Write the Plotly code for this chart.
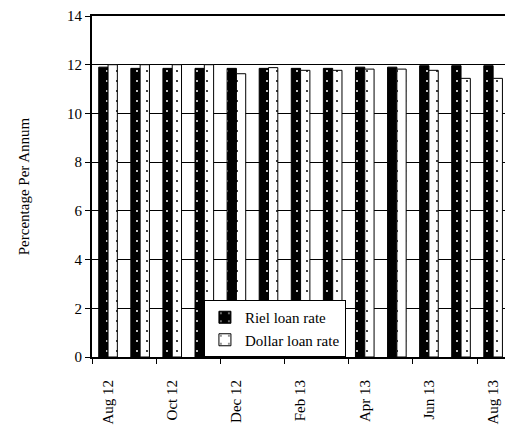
import plotly.graph_objects as go

months = ["Aug 12", "Sep 12", "Oct 12", "Nov 12", "Dec 12", "Jan 13", "Feb 13",
          "Mar 13", "Apr 13", "May 13", "Jun 13", "Jul 13", "Aug 13"]
riel = [11.90, 11.85, 11.85, 11.85, 11.85, 11.85, 11.85, 11.85, 11.90, 11.90, 11.96, 11.96, 11.96]
dollar = [12.00, 12.00, 12.00, 12.00, 11.63, 11.88, 11.77, 11.77, 11.82, 11.82, 11.77, 11.44, 11.44]

xi = list(range(len(months)))
FONT = "Liberation Serif, Times New Roman, serif"

fig = go.Figure()
fig.add_trace(go.Bar(
    x=xi, y=riel, name="Riel loan rate",
    marker=dict(color="black", line=dict(color="black", width=1),
                pattern=dict(shape=".", fgcolor="white", bgcolor="black",
                             size=10, solidity=0.03, fillmode="replace")),
))
fig.add_trace(go.Bar(
    x=xi, y=dollar, name="Dollar loan rate",
    marker=dict(color="white", line=dict(color="black", width=1),
                pattern=dict(shape=".", fgcolor="black", bgcolor="white",
                             size=10, solidity=0.03, fillmode="replace")),
))

fig.update_layout(
    width=505, height=428,
    margin=dict(l=92, r=0, t=16, b=71),
    paper_bgcolor="white", plot_bgcolor="white",
    barmode="group", bargap=0.42, bargroupgap=0,
    font=dict(family=FONT, size=15, color="black"),
    showlegend=True,
    legend=dict(x=0.271, y=0, xanchor="left", yanchor="bottom",
                bgcolor="white", bordercolor="black", borderwidth=1,
                font=dict(family=FONT, size=15), itemwidth=30,
                tracegroupgap=4),
)
fig.update_xaxes(
    range=[-0.5, 12.37],
    tickmode="array", tickvals=xi[::2], ticktext=months[::2],
    tickangle=-90, ticks="", ticklabelstandoff=15,
    showgrid=False, zeroline=False,
    showline=True, linecolor="black", linewidth=2, mirror=True,
    minor=dict(tick0=-0.5, dtick=2, ticks="outside", ticklen=5,
               tickcolor="black", tickwidth=1, showgrid=False),
    tickfont=dict(family=FONT, size=15),
)
fig.update_yaxes(
    range=[0, 14], dtick=2,
    ticks="outside", ticklen=5, tickcolor="black", tickwidth=1,
    showgrid=True, gridcolor="black", gridwidth=1,
    zeroline=False, showline=True, linecolor="black", linewidth=2,
    tickfont=dict(family=FONT, size=15),
    title=dict(text="Percentage Per Annum", font=dict(family=FONT, size=15), standoff=34),
)

fig.write_html(
    "out.html",
    config={"displayModeBar": False},
    post_script="document.body.style.margin='0';document.body.style.overflow='hidden';",
)
